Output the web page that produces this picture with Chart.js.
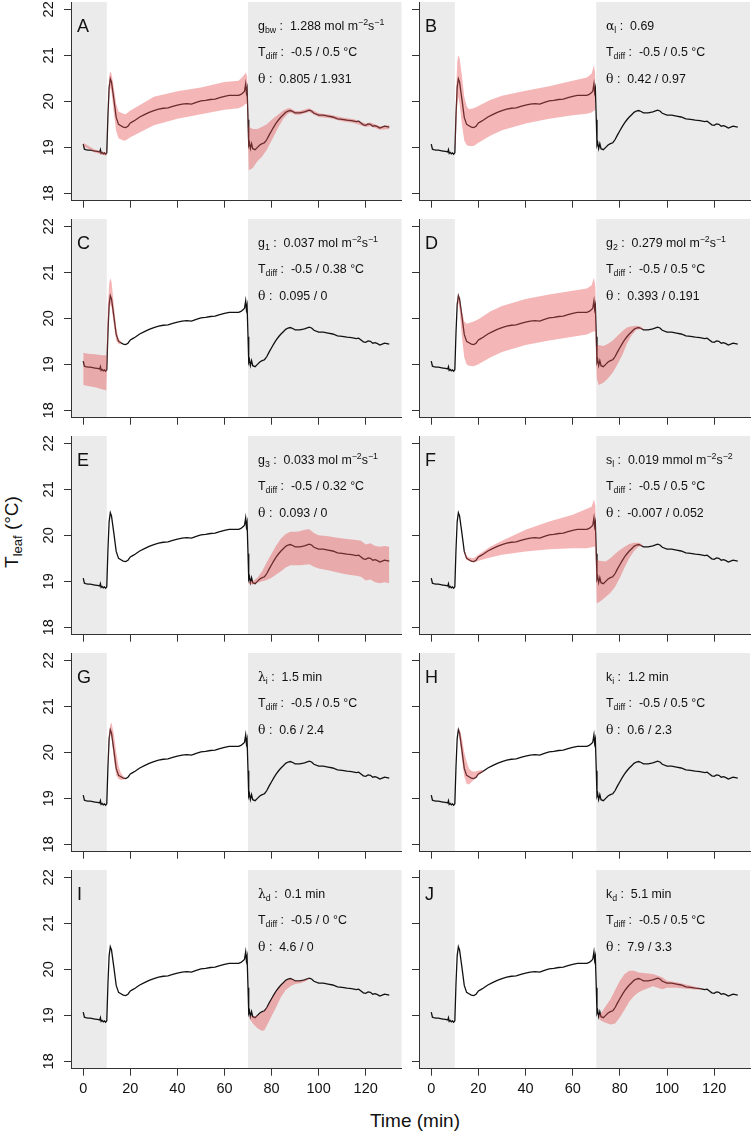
<!DOCTYPE html>
<html>
<head>
<meta charset="utf-8">
<script src="https://cdn.jsdelivr.net/npm/chart.js@4.4.1/dist/chart.umd.min.js"></script>
<style>
  body { margin: 0; background: #fff; }
  #wrap { position: relative; width: 752px; height: 1135px; overflow: hidden; font-family: "Liberation Sans", Arial, sans-serif; color: #111; }
  canvas { position: absolute; }
  .ytitle { position: absolute; width: 200px; height: 24px; line-height: 24px; text-align: center; font-size: 19px; transform: rotate(-90deg); }
  .ytitle sub { font-size: 13px; vertical-align: -4px; line-height: 0; }
  .xtitle { position: absolute; width: 200px; text-align: center; font-size: 19px; }
</style>
</head>
<body>
<div id="wrap">
  <div class="ytitle" style="left:-88px; top:520px;">T<sub>leaf</sub> (°C)</div>
  <div class="xtitle" style="left:315px; top:1110px;">Time (min)</div>
</div>
<script>
// --- observed leaf temperature (same in every panel) ---
const time = [0, 0.5, 1, 2, 3, 4, 5, 6, 7, 7.3, 7.6, 8, 8.5, 9, 9.5, 10, 10.5, 11, 11.5, 12, 13, 14, 15, 16, 17, 18, 19, 20, 21, 22, 24, 26, 28, 30, 32, 34, 36, 38, 40, 42, 44, 46, 48, 50, 52, 54, 56, 58, 60, 62, 64, 66, 67, 68, 68.5, 69, 69.3, 69.6, 70, 70.3, 70.6, 71, 71.5, 72, 73, 74, 75, 76, 77, 78, 79, 80, 81, 82, 83, 84, 85, 86, 87, 88, 89, 90, 92, 94, 96, 97, 98, 100, 102, 104, 106, 108, 110, 112, 114, 116, 117, 118, 119, 120, 121, 122, 123, 124, 125, 126, 127, 128, 129, 130];
const tleaf = [19.07, 18.96, 18.95, 18.94, 18.94, 18.93, 18.92, 18.91, 18.90, 18.95, 18.87, 18.89, 18.86, 18.88, 18.85, 18.88, 19.7, 20.3, 20.49, 20.42, 20.05, 19.65, 19.50, 19.47, 19.44, 19.43, 19.46, 19.53, 19.56, 19.59, 19.66, 19.71, 19.76, 19.8, 19.83, 19.85, 19.86, 19.89, 19.92, 19.94, 19.95, 19.94, 19.98, 20.01, 20.02, 20.04, 20.05, 20.08, 20.11, 20.13, 20.13, 20.13, 20.15, 20.19, 20.22, 20.38, 20.2, 20.28, 19.6, 19.05, 19.1, 18.97, 19.08, 18.97, 18.95, 19.0, 19.05, 19.08, 19.1, 19.17, 19.27, 19.36, 19.45, 19.53, 19.6, 19.66, 19.71, 19.76, 19.79, 19.8, 19.78, 19.75, 19.75, 19.77, 19.81, 19.79, 19.74, 19.70, 19.70, 19.68, 19.66, 19.62, 19.61, 19.59, 19.58, 19.56, 19.57, 19.53, 19.49, 19.48, 19.51, 19.50, 19.46, 19.47, 19.45, 19.42, 19.44, 19.46, 19.45, 19.44];

// --- simulated range (ribbon) for each panel: time, lower, upper ---
const ribbonTimeA = [0, 5, 9.5, 10, 11, 11.5, 12, 13, 14, 15, 17, 18, 20, 25, 30, 40, 50, 60, 66, 68, 69, 69.6, 70.3, 72, 74, 76, 78, 80, 83, 85, 87, 88, 90, 92, 96, 100, 105, 110, 115, 120, 122, 126, 130];
const ribbonLowA = [19.03, 18.89, 18.82, 18.83, 20.1, 20.3, 20.2, 19.75, 19.35, 19.2, 19.15, 19.15, 19.22, 19.35, 19.48, 19.62, 19.72, 19.82, 19.85, 19.9, 19.95, 19.95, 18.5, 18.55, 18.7, 18.8, 18.95, 19.15, 19.45, 19.62, 19.73, 19.76, 19.71, 19.71, 19.77, 19.66, 19.63, 19.57, 19.53, 19.44, 19.46, 19.38, 19.4];
const ribbonHighA = [19.1, 18.95, 18.88, 18.95, 20.55, 20.65, 20.6, 20.3, 19.95, 19.78, 19.73, 19.72, 19.8, 19.95, 20.1, 20.22, 20.3, 20.42, 20.45, 20.55, 20.62, 20.55, 19.45, 19.4, 19.4, 19.45, 19.5, 19.6, 19.72, 19.8, 19.85, 19.85, 19.79, 19.79, 19.85, 19.74, 19.71, 19.65, 19.61, 19.52, 19.54, 19.46, 19.48];

const ribbonTimeB = [10, 10.5, 11, 11.5, 12, 13, 14, 15, 16, 18, 20, 25, 30, 40, 50, 60, 66, 68, 69, 69.6];
const ribbonLowB = [18.85, 19.3, 19.9, 20.1, 19.95, 19.5, 19.15, 19.05, 19.03, 19.03, 19.1, 19.25, 19.37, 19.52, 19.62, 19.7, 19.73, 19.76, 19.8, 19.8];
const ribbonHighB = [18.95, 20.1, 20.85, 21.0, 20.95, 20.55, 20.1, 19.9, 19.83, 19.85, 19.9, 20.03, 20.12, 20.23, 20.33, 20.45, 20.52, 20.6, 20.78, 20.6];

const ribbonTimeC = [0, 2, 5, 8, 9.8, 10, 10.5, 11, 11.5, 12, 13, 14, 15, 16];
const ribbonLowC = [18.55, 18.53, 18.5, 18.46, 18.43, 18.8, 19.5, 20.1, 20.3, 20.25, 19.85, 19.52, 19.44, 19.43];
const ribbonHighC = [19.25, 19.23, 19.22, 19.2, 19.2, 19.4, 20.3, 20.75, 20.87, 20.8, 20.3, 19.8, 19.56, 19.5];

const ribbonTimeD = [11, 11.5, 12, 13, 14, 15, 16, 18, 20, 25, 30, 40, 50, 60, 66, 68, 69, 69.6, 70.2, 71, 73, 75, 77, 79, 81, 83, 85, 87, 89, 90];
const ribbonLowD = [20.2, 20.35, 20.2, 19.6, 19.15, 19.0, 18.97, 18.96, 19.0, 19.15, 19.27, 19.42, 19.52, 19.6, 19.65, 19.7, 19.72, 19.72, 18.7, 18.55, 18.6, 18.7, 18.82, 19.0, 19.2, 19.45, 19.63, 19.75, 19.77, 19.74];
const ribbonHighD = [20.4, 20.55, 20.45, 20.15, 19.93, 19.88, 19.9, 19.93, 19.98, 20.15, 20.27, 20.42, 20.52, 20.6, 20.65, 20.72, 20.88, 20.7, 19.4, 19.42, 19.4, 19.45, 19.52, 19.62, 19.72, 19.8, 19.83, 19.84, 19.82, 19.77];

const ribbonTimeE = [70.3, 72, 74, 76, 78, 80, 82, 84, 86, 88, 90, 92, 94, 96, 98, 100, 104, 108, 112, 116, 118, 120, 122, 124, 126, 128, 130];
const ribbonLowE = [18.95, 18.93, 18.97, 19.0, 19.03, 19.08, 19.15, 19.22, 19.3, 19.35, 19.35, 19.35, 19.36, 19.37, 19.32, 19.28, 19.24, 19.19, 19.15, 19.12, 19.1, 19.02, 19.04, 18.98, 18.96, 18.98, 18.96];
const ribbonHighE = [19.0, 19.0, 19.08, 19.22, 19.42, 19.6, 19.78, 19.93, 20.03, 20.08, 20.08, 20.09, 20.12, 20.13, 20.05, 20.0, 19.98, 19.95, 19.92, 19.9, 19.88, 19.8, 19.83, 19.77, 19.75, 19.77, 19.75];

const ribbonTimeF = [14, 15, 16, 18, 20, 25, 30, 40, 50, 60, 66, 68, 69, 69.6, 70.2, 72, 74, 76, 78, 80, 82, 84, 86, 88, 89.5];
const ribbonLowF = [19.6, 19.47, 19.44, 19.41, 19.45, 19.52, 19.58, 19.65, 19.7, 19.72, 19.72, 19.74, 19.75, 19.75, 18.52, 18.58, 18.66, 18.75, 18.88, 19.08, 19.3, 19.5, 19.66, 19.76, 19.76];
const ribbonHighF = [19.68, 19.56, 19.52, 19.5, 19.58, 19.75, 19.88, 20.12, 20.3, 20.45, 20.58, 20.62, 20.78, 20.65, 19.46, 19.44, 19.43, 19.5, 19.6, 19.68, 19.75, 19.81, 19.84, 19.84, 19.8];

const ribbonTimeG = [10.5, 11, 11.5, 12, 13, 14, 15, 16, 17, 18];
const ribbonLowG = [19.6, 20.2, 20.4, 20.35, 19.85, 19.5, 19.42, 19.4, 19.41, 19.42];
const ribbonHighG = [19.8, 20.45, 20.6, 20.65, 20.4, 20.0, 19.7, 19.55, 19.48, 19.45];

const ribbonTimeH = [11.5, 12, 13, 14, 15, 16, 17, 18, 20, 22];
const ribbonLowH = [20.45, 20.3, 19.85, 19.48, 19.32, 19.3, 19.35, 19.4, 19.5, 19.58];
const ribbonHighH = [20.52, 20.5, 20.3, 20.0, 19.8, 19.65, 19.6, 19.58, 19.6, 19.62];

const ribbonTimeI = [70.5, 72, 74, 76, 77, 78, 80, 82, 84, 86, 88, 90, 92, 94, 96];
const ribbonLowI = [18.95, 18.82, 18.72, 18.66, 18.68, 18.78, 18.98, 19.18, 19.4, 19.55, 19.63, 19.68, 19.7, 19.73, 19.79];
const ribbonHighI = [19.0, 18.97, 18.99, 19.06, 19.1, 19.17, 19.35, 19.52, 19.65, 19.75, 19.8, 19.76, 19.75, 19.77, 19.82];

const ribbonTimeJ = [71, 72, 74, 76, 78, 80, 82, 84, 86, 88, 90, 94, 98, 100, 104, 108, 112, 115];
const ribbonLowJ = [18.95, 18.88, 18.84, 18.8, 18.82, 18.96, 19.12, 19.3, 19.42, 19.5, 19.55, 19.63, 19.57, 19.6, 19.6, 19.58, 19.56, 19.56];
const ribbonHighJ = [19.0, 19.05, 19.2, 19.35, 19.55, 19.75, 19.9, 19.97, 19.97, 19.93, 19.92, 19.9, 19.83, 19.75, 19.72, 19.67, 19.62, 19.58];

// --- axes / annotations ---
const xTicks = [0, 20, 40, 60, 80, 100, 120];
const yTicks = [18, 19, 20, 21, 22];
const shadeBreaks = [10, 70];
const panelLetters = ['A', 'B', 'C', 'D', 'E', 'F', 'G', 'H', 'I', 'J'];
const paramSymbols = ['g', 'α', 'g', 'g', 'g', 's', 'λ', 'k', 'λ', 'k'];
const paramSubs = ['bw', 'l', '1', '2', '3', 'l', 'i', 'i', 'd', 'd'];
const paramValues = ['1.288', '0.69', '0.037', '0.279', '0.033', '0.019', '1.5', '1.2', '0.1', '5.1'];
const paramUnits = ['mol', '', 'mol', 'mol', 'mol', 'mmol', 'min', 'min', 'min', 'min'];
const tdiffValues = ['-0.5 / 0.5', '-0.5 / 0.5', '-0.5 / 0.38', '-0.5 / 0.5', '-0.5 / 0.32', '-0.5 / 0.5', '-0.5 / 0.5', '-0.5 / 0.5', '-0.5 / 0', '-0.5 / 0.5'];
const thetaValues = ['0.805 / 1.931', '0.42 / 0.97', '0.095 / 0', '0.393 / 0.191', '0.093 / 0', '-0.007 / 0.052', '0.6 / 2.4', '0.6 / 2.3', '4.6 / 0', '7.9 / 3.3'];

const ribbons = [
  [ribbonTimeA, ribbonLowA, ribbonHighA], [ribbonTimeB, ribbonLowB, ribbonHighB],
  [ribbonTimeC, ribbonLowC, ribbonHighC], [ribbonTimeD, ribbonLowD, ribbonHighD],
  [ribbonTimeE, ribbonLowE, ribbonHighE], [ribbonTimeF, ribbonLowF, ribbonHighF],
  [ribbonTimeG, ribbonLowG, ribbonHighG], [ribbonTimeH, ribbonLowH, ribbonHighH],
  [ribbonTimeI, ribbonLowI, ribbonHighI], [ribbonTimeJ, ribbonLowJ, ribbonHighJ],
];

const SANS = '"Liberation Sans", Arial, sans-serif';
const SERIF = '"DejaVu Serif", "Liberation Serif", serif';
const RIBBON = 'rgba(232, 80, 84, 0.42)';
const AXIS = '#333';

// draw a run of [text, mode, font] pieces; mode 0 normal, 1 sub, 2 sup
function drawRich(ctx, x, y, pieces) {
  pieces.forEach(([txt, mode, fam]) => {
    const size = mode ? 8.8 : 12.4;
    ctx.font = `${size}px ${fam || SANS}`;
    const dy = mode === 1 ? 3 : mode === 2 ? -5 : 0;
    ctx.fillText(txt, x, y + dy);
    x += ctx.measureText(txt).width;
  });
}

function unitPieces(u) {
  if (u === 'mol') return [['mol m', 0], ['−2', 2], ['s', 0], ['−1', 2]];
  if (u === 'mmol') return [['mmol m', 0], ['−2', 2], ['s', 0], ['−2', 2]];
  if (u === 'min') return [['min', 0]];
  return [];
}

const panelDecor = {
  id: 'panelDecor',
  beforeDraw(chart) {
    const { ctx, chartArea: a, scales: { x } } = chart;
    ctx.save();
    ctx.fillStyle = '#ebebeb';
    const x1 = x.getPixelForValue(shadeBreaks[0]);
    const x2 = x.getPixelForValue(shadeBreaks[1]);
    ctx.fillRect(a.left, a.top, x1 - a.left, a.bottom - a.top);
    ctx.fillRect(x2, a.top, a.right - x2, a.bottom - a.top);
    ctx.restore();
  },
  afterDraw(chart) {
    const { ctx, chartArea: a, scales: { y } } = chart;
    const i = chart.options.plugins.panelDecor.index;
    ctx.save();
    ctx.fillStyle = '#111';
    ctx.textBaseline = 'alphabetic';
    // panel letter
    ctx.font = `18px ${SANS}`;
    ctx.textAlign = 'left';
    ctx.fillText(panelLetters[i], a.left + 6, a.top + 30);
    // annotation lines
    const tx = a.left + 187;
    const greek = paramSymbols[i] === 'α' || paramSymbols[i] === 'λ';
    const line1 = [[paramSymbols[i], 0, greek ? SERIF : SANS], [paramSubs[i], 1], [' :  ' + paramValues[i] + (paramUnits[i] ? ' ' : ''), 0]].concat(unitPieces(paramUnits[i]));
    drawRich(ctx, tx, a.top + 27.5, line1);
    drawRich(ctx, tx, a.top + 53.5, [['T', 0], ['diff', 1], [' :  ' + tdiffValues[i] + ' °C', 0]]);
    drawRich(ctx, tx, a.top + 81, [['θ', 0, SERIF], [' :  ' + thetaValues[i], 0]]);
    // rotated y tick labels, left column only
    if (i % 2 === 0) {
      ctx.font = `14.5px ${SANS}`;
      ctx.textAlign = 'center';
      yTicks.forEach(v => {
        ctx.save();
        ctx.translate(a.left - 18, y.getPixelForValue(v));
        ctx.rotate(-Math.PI / 2);
        ctx.fillText(String(v), 0, 0);
        ctx.restore();
      });
    }
    ctx.restore();
  }
};

const wrap = document.getElementById('wrap');
const ROW = 217;

for (let i = 0; i < 10; i++) {
  const row = Math.floor(i / 2), col = i % 2;
  const last = row === 4;
  const canvas = document.createElement('canvas');
  const w = col === 0 ? 404 : 348;
  const h = last ? 1135 - ROW * 4 : ROW;
  canvas.width = w; canvas.height = h;
  canvas.style.left = (col === 0 ? 0 : 404) + 'px';
  canvas.style.top = (row * ROW) + 'px';
  wrap.appendChild(canvas);

  const [rt, rlo, rhi] = ribbons[i];
  new Chart(canvas, {
    type: 'line',
    data: {
      datasets: [
        { data: rt.map((t, k) => ({ x: t, y: rhi[k] })), borderWidth: 0, backgroundColor: RIBBON, fill: '+1', pointRadius: 0 },
        { data: rt.map((t, k) => ({ x: t, y: rlo[k] })), borderWidth: 0, backgroundColor: RIBBON, fill: false, pointRadius: 0 },
        { data: time.map((t, k) => ({ x: t, y: tleaf[k] })), borderColor: '#111', borderWidth: 1.3, fill: false, pointRadius: 0 },
      ],
    },
    options: {
      responsive: false, animation: false, devicePixelRatio: 1,
      layout: { padding: { top: 2, right: col === 0 ? 2.5 : 2, left: 0, bottom: 0 } },
      elements: { line: { tension: 0 } },
      plugins: { legend: { display: false }, tooltip: { enabled: false }, panelDecor: { index: i } },
      scales: {
        x: {
          type: 'linear', min: -5.2, max: 135.2,
          afterBuildTicks: s => { s.ticks = xTicks.map(v => ({ value: v })); },
          afterFit: s => { s.height = last ? h - 200.7 : ROW - 200.7; },
          grid: { drawOnChartArea: false, drawTicks: true, tickLength: 7, color: AXIS },
          border: { display: true, color: AXIS, width: 1 },
          ticks: { display: last, color: '#111', font: { size: 14.5, family: SANS }, padding: 5, maxRotation: 0, autoSkip: false },
        },
        y: {
          type: 'linear', min: 17.84, max: 22.16,
          afterBuildTicks: s => { s.ticks = yTicks.map(v => ({ value: v })); },
          afterFit: s => { s.width = col === 0 ? 71 : 15; },
          grid: { drawOnChartArea: false, drawTicks: true, tickLength: 7, color: AXIS },
          border: { display: true, color: AXIS, width: 1 },
          ticks: { display: false },
        },
      },
    },
    plugins: [panelDecor],
  });
}
</script>
</body>
</html>
